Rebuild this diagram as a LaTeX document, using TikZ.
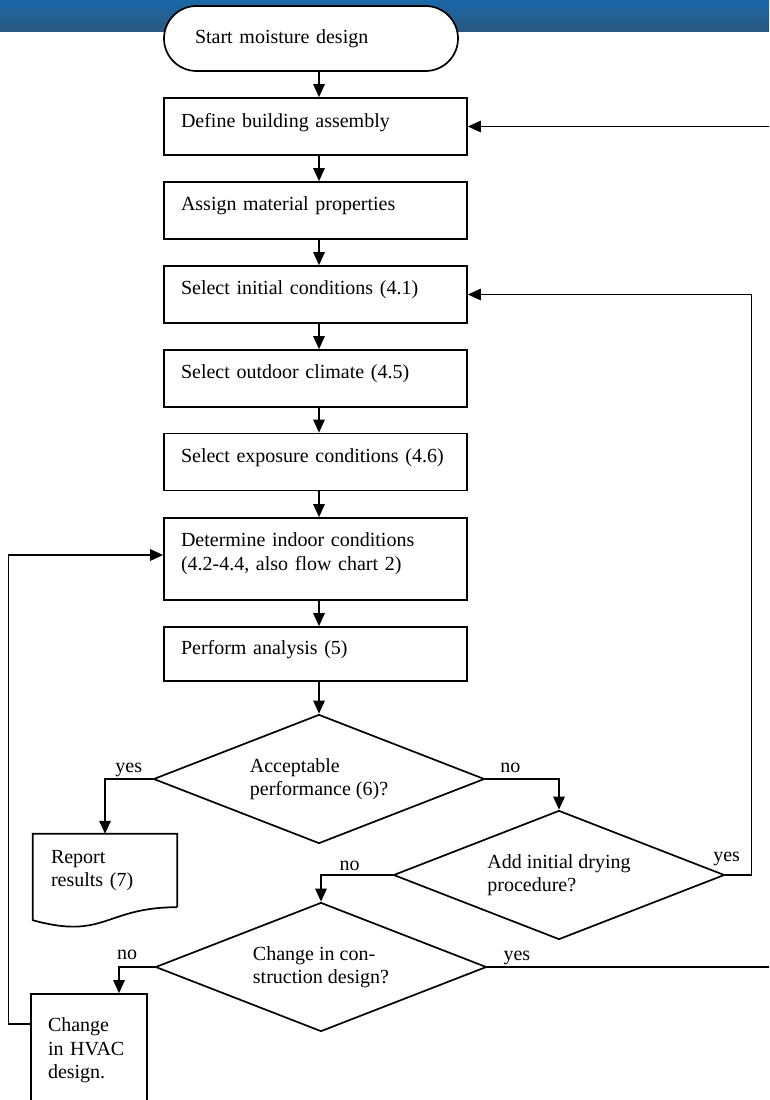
\documentclass[tikz,border=0pt]{standalone}
\usepackage{fontspec}
\setmainfont{Liberation Serif}
\usetikzlibrary{arrows.meta, shapes.geometric, calc}

\definecolor{bannertop}{HTML}{1B68A9}
\definecolor{bannerbottom}{HTML}{2A5880}

\newcommand{\chartfont}{\fontsize{20pt}{23.5pt}\selectfont}

\tikzset{
    outline/.style={draw=black, line width=1.7pt},
    terminal/.style={outline, fill=white, rectangle, rounded corners=32.5pt, minimum width=294pt, minimum height=65pt, text width=232pt, inner xsep=31pt, align=left},
    process/.style={outline, fill=white, rectangle, minimum width=303pt, minimum height=57pt, text width=269pt, inner xsep=17pt, align=left, text depth=13pt},
    decision/.style={outline, fill=white, diamond, minimum width=331pt, minimum height=129pt, aspect=2.57, inner sep=0pt, align=left},
    docshape/.style={rectangle, minimum width=144pt, minimum height=73pt, text width=108pt, inner xsep=18pt, align=left},
    flow/.style={line width=1.4pt, -{Triangle[length=13pt, width=11.5pt]}},
    answer/.style={inner sep=0pt, text depth=0pt},
}

\begin{document}
\begin{tikzpicture}[x=1pt, y=-1pt, every node/.append style={font=\chartfont}]
    \useasboundingbox (0,0) rectangle (769,1100);
    \clip (0,0) rectangle (769,1100);

    % header band
    \shade[top color=bannertop, bottom color=bannerbottom] (0,0) rectangle (769,31);

    % main column
    \node[terminal] (start) at (311,38.5) {Start moisture design};
    \node[process] (define) at (315.5,126.5) {Define building assembly};
    \node[process] (assign) at (315.5,210.5) {Assign material properties};
    \node[process] (init) at (315.5,294.5) {Select initial conditions (4.1)};
    \node[process] (outdoor) at (315.5,378.5) {Select outdoor climate (4.5)};
    \node[process] (exposure) at (315.5,462) {Select exposure conditions (4.6)};
    \node[process, minimum height=82pt, text depth=38pt] (indoor) at (315.5,559) {Determine indoor conditions\\(4.2-4.4, also flow chart 2)};
    \node[process, minimum height=54pt] (perform) at (315.5,654) {Perform analysis (5)};

    % decisions
    \node[decision] (accept) at (319,779) {Acceptable\\performance (6)?};
    \node[decision] (drying) at (559,875) {Add initial drying\\procedure?};
    \node[decision] (construct) at (321,967) {Change in con-\\struction design?};

    % outcomes
    \node[docshape] (report) at (105,870.5) {Report\\results (7)};
    \draw[outline] (report.south east) -- (report.north east) -- (report.north west)
        -- ($(report.south west)+(0,13)$) .. controls ($(report.south)+(0,33)$) and (report.south) .. (report.south east);
    \node[process, minimum width=116pt, minimum height=120pt, text width=82pt, text depth=58pt] (hvac) at (89,1054) {Change\\in HVAC\\design.};

    % off the page, on the right
    \coordinate (rim) at (800,500);

    % connectors down the main column
    \foreach \a/\b in {start/define, define/assign, assign/init, init/outdoor, outdoor/exposure, exposure/indoor, indoor/perform, perform/accept}
        \draw[flow] (\a.south -| accept.north) -- (\b.north -| accept.north);

    % branches
    \draw[flow] (accept.west) -| node[answer, pos=0.25, above=6pt] {yes} (report.north);
    \draw[flow] (accept.east) -| node[answer, pos=0.17, above=6pt] {no} (drying.north);
    \draw[flow] (drying.west) -| node[answer, pos=0.3, above=4pt] {no} (construct.north);
    \draw[flow] (drying.east) -- node[answer, pos=0.05, above=13pt] {yes} ++(26,0) |- (init.east);
    \draw[flow] (construct.west) -| node[answer, pos=0.385, above=7pt] {no} ($(hvac.north)+(30,0)$);
    \draw[flow] (construct.east) -- node[answer, above=6pt] {yes} ++(59,0) -| (rim) |- (define.east);
    \draw[flow] ($(hvac.north west)+(0,31)$) -- ++(-21.5,0) |- ($(indoor.west)+(0,-4)$);
\end{tikzpicture}
\end{document}
